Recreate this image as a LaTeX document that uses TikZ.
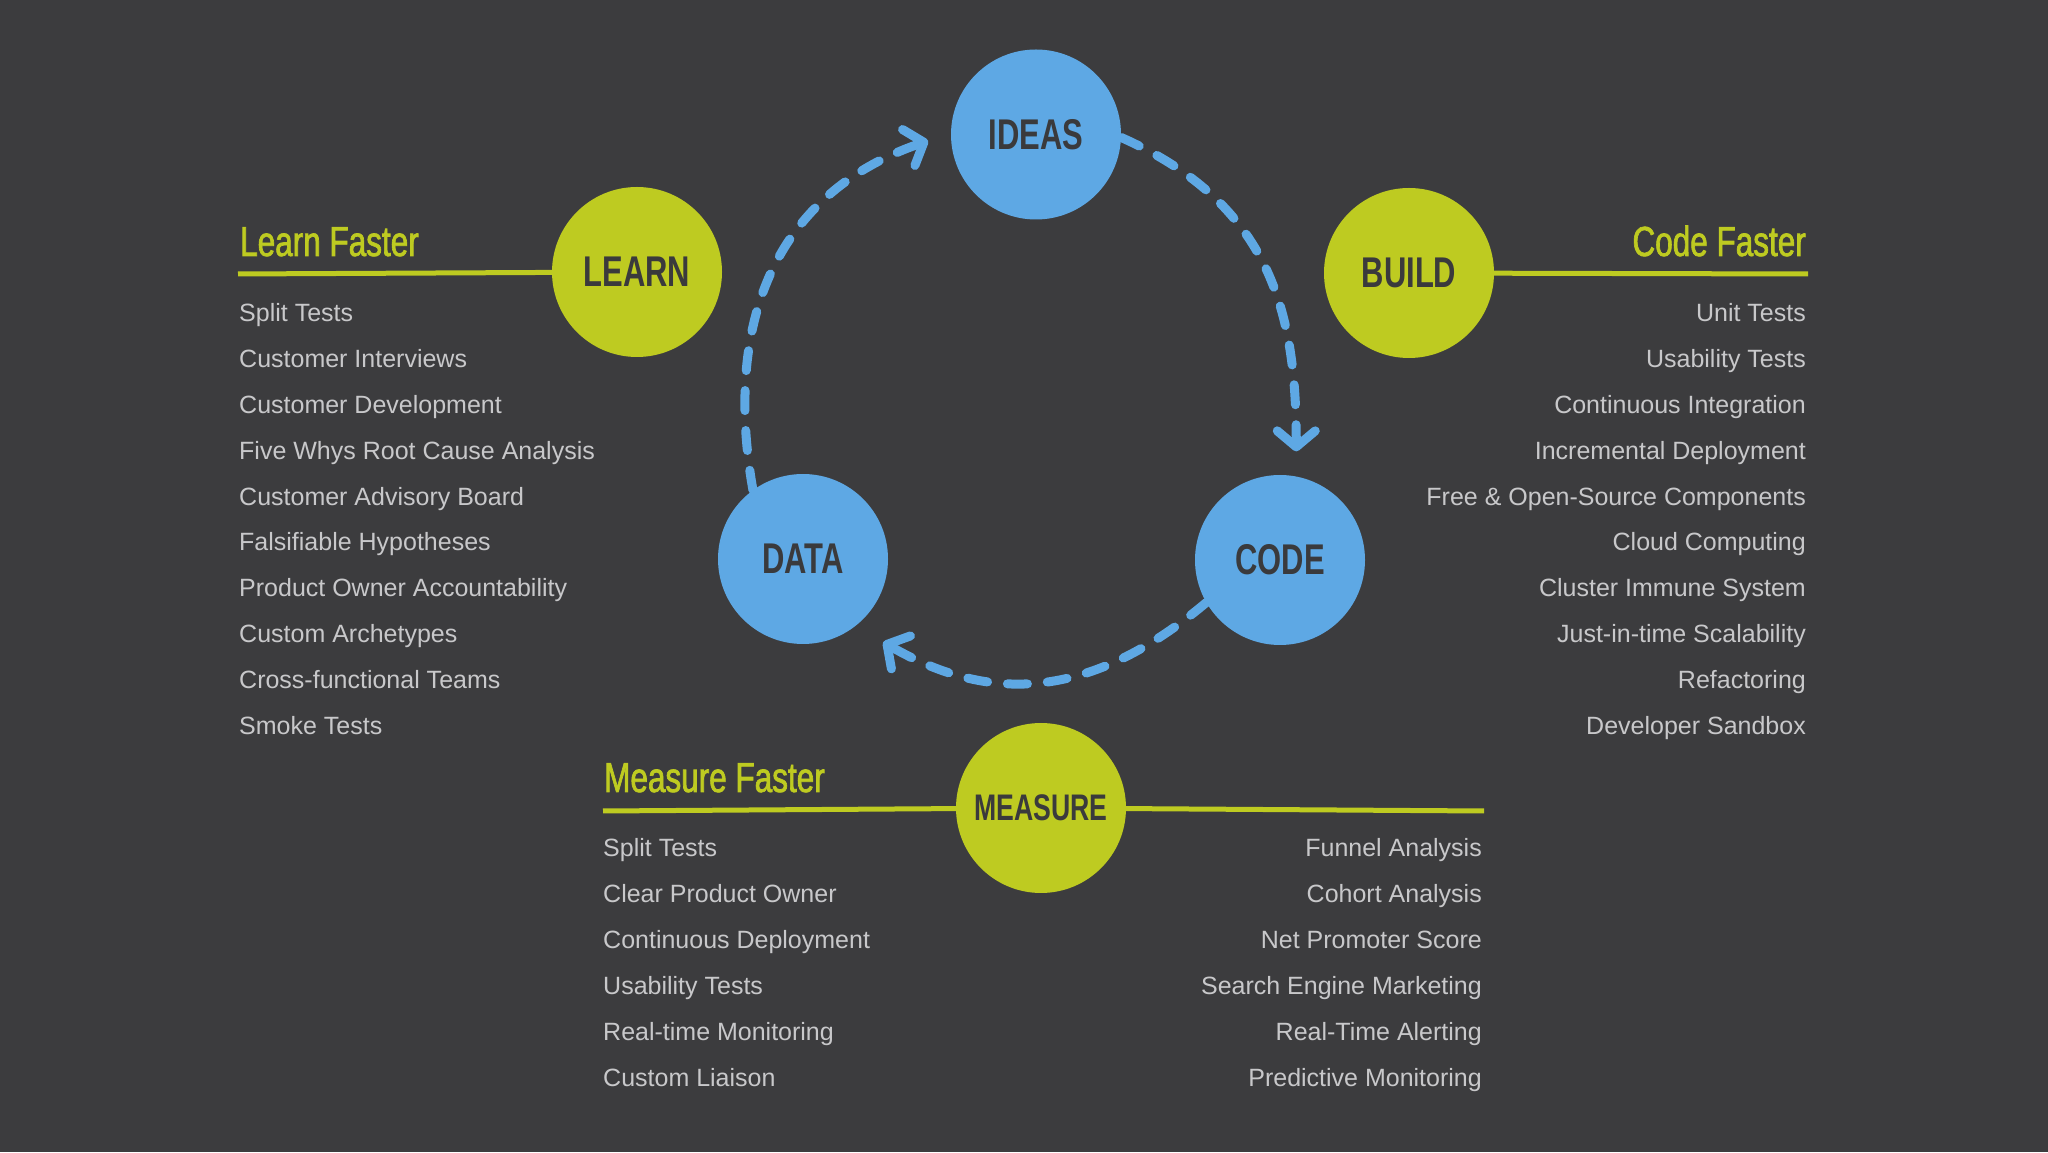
\documentclass[tikz,border=0pt]{standalone}
\usepackage{fontspec}
\setmainfont{Liberation Sans}
\newfontfamily\condfont[FakeStretch=0.72]{Liberation Sans}
\newfontfamily\titlefont[FakeStretch=0.75,FakeBold=1.6]{Liberation Sans}
\usetikzlibrary{arrows.meta}
\definecolor{bgc}{RGB}{60,60,62}
\definecolor{blu}{RGB}{94,168,228}
\definecolor{grn}{RGB}{190,203,33}
\definecolor{itm}{RGB}{200,200,202}
\definecolor{dk}{RGB}{58,58,60}
\begin{document}
\begin{tikzpicture}[x=1pt,y=1pt,
  bubble/.style={circle, minimum size=170pt, inner sep=0pt, text=dk,
    font=\condfont\bfseries\fontsize{43}{43}\selectfont},
  bluebub/.style={bubble, fill=blu},
  greenbub/.style={bubble, fill=grn},
  titletext/.style={font=\titlefont\fontsize{42}{42}\selectfont, text=grn, inner sep=0pt},
  itemtext/.style={font=\fontsize{25}{25}\selectfont, text=itm, inner sep=0pt},
  rule/.style={draw=grn, line width=5pt},
  flow/.style={draw=blu, line width=9pt, line cap=round, dash pattern=on 20pt off 20pt,
    -{Straight Barb[length=16pt,width=38pt,round]}},
]
\useasboundingbox (0,0) rectangle (2048,1152);
\fill[bgc] (0,0) rectangle (2048,1152);

% circles
\node[bluebub]  (ideas)   at (1036,1017.5) {IDEAS};
\node[greenbub] (learn)   at (637,880)     {LEARN};
\node[greenbub] (build)   at (1409,879)    {BUILD};
\node[bluebub]  (data)    at (803,593)     {DATA};
\node[bluebub]  (code)    at (1280,592)    {CODE};
\node[greenbub, font=\condfont\bfseries\fontsize{37}{37}\selectfont] (measure) at (1041,344) {MEASURE};

% rule ends
\coordinate (lA) at (238,878);
\coordinate (cB) at (1808,878);
\coordinate (mL) at (603,341);
\coordinate (mR) at (1484,341);
\draw[rule] (lA) -- (learn);
\draw[rule] (build) -- (cB);
\draw[rule] (mL) -- (measure);
\draw[rule] (measure) -- (mR);

% titles
\node[titletext, anchor=base west] (tlearn) at (240,896) {Learn Faster};
\node[titletext, anchor=base east] (tcode) at (1806,896) {Code Faster};
\node[titletext, anchor=base west] (tmeasure) at (604,360) {Measure Faster};

% lists
\foreach \t [count=\i] in {Split Tests, Customer Interviews, Customer Development,
  Five Whys Root Cause Analysis, Customer Advisory Board, Falsifiable Hypotheses,
  Product Owner Accountability, Custom Archetypes, Cross-functional Teams, Smoke Tests}
  \node[itemtext, anchor=base west] (li\i) at (239,{830.5-45.9*(\i-1)}) {\t};
\foreach \t [count=\i] in {Unit Tests, Usability Tests, Continuous Integration,
  Incremental Deployment, Free \& Open-Source Components, Cloud Computing,
  Cluster Immune System, Just-in-time Scalability, Refactoring, Developer Sandbox}
  \node[itemtext, anchor=base east] (bi\i) at (1806,{830.5-45.9*(\i-1)}) {\t};
\foreach \t [count=\i] in {Split Tests, Clear Product Owner, Continuous Deployment,
  Usability Tests, Real-time Monitoring, Custom Liaison}
  \node[itemtext, anchor=base west] (ml\i) at (603,{295.5-46*(\i-1)}) {\t};
\foreach \t [count=\i] in {Funnel Analysis, Cohort Analysis, Net Promoter Score,
  Search Engine Marketing, Real-Time Alerting, Predictive Monitoring}
  \node[itemtext, anchor=base east] (mr\i) at (1482,{295.5-46*(\i-1)}) {\t};

% cycle arrows
\draw[flow, shorten >=25pt] (ideas.-2) to[out=-24, in=90, looseness=1.1] (code.79);
\draw[flow, shorten >=32pt] (code.210) to[out=-140, in=-30, looseness=1.12] (data.-52);
\draw[flow, shorten >=24pt] (data.126) to[out=100, in=-161, looseness=1.12] (ideas.179);
\end{tikzpicture}
\end{document}
